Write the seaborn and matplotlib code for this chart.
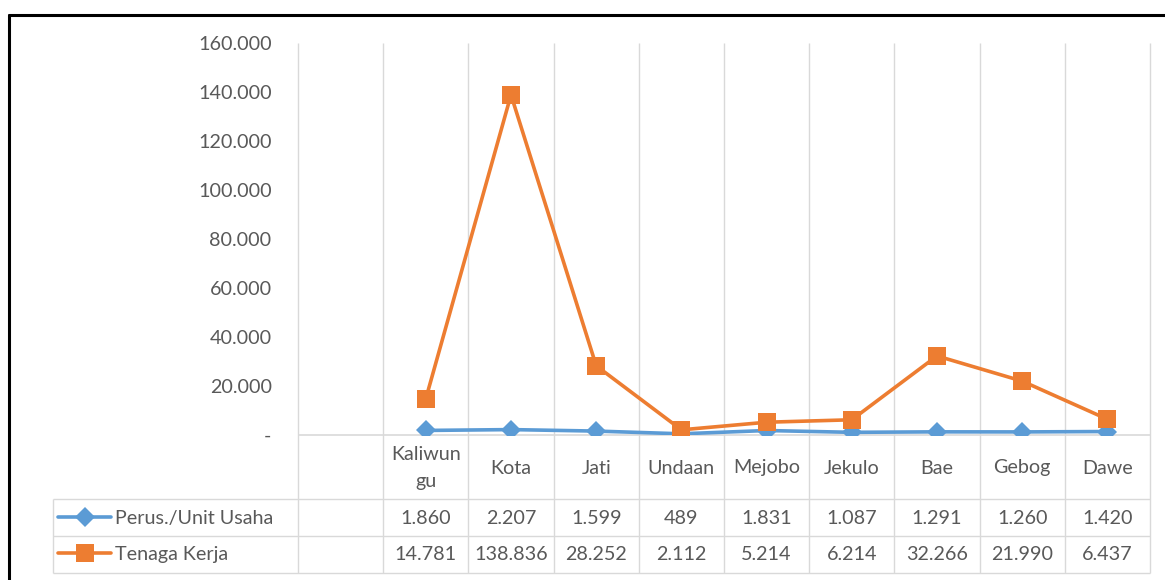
import numpy as np
import matplotlib
matplotlib.use("Agg")
import matplotlib.pyplot as plt
import seaborn as sns
from matplotlib.ticker import FuncFormatter
from matplotlib.lines import Line2D

# ---------------------------------------------
# DATA
# ---------------------------------------------
districts = ["Kaliwungu", "Kota", "Jati", "Undaan", "Mejobo", "Jekulo", "Bae", "Gebog", "Dawe"]
header_labels = ["Kaliwun\ngu", "Kota", "Jati", "Undaan", "Mejobo", "Jekulo", "Bae", "Gebog", "Dawe"]
perus = [1860, 2207, 1599, 489, 1831, 1087, 1291, 1260, 1420]
tenaga = [14781, 138836, 28252, 2112, 5214, 6214, 32266, 21990, 6437]
series_names = ["Perus./Unit Usaha", "Tenaga Kerja"]
y_ticks = [0, 20000, 40000, 60000, 80000, 100000, 120000, 140000, 160000]

# first category slot is left empty, like in the source chart
x_pos = np.arange(1, len(districts) + 1)
n_slots = len(districts) + 1

BLUE = "#5B9BD5"
ORANGE = "#ED7D31"
GRID = "#D9D9D9"
TEXT = "#595959"
FS = 14.2


def fmt_id(v):
    return f"{int(v):,}".replace(",", ".")


sns.set_theme(style="white")
plt.rcParams["font.family"] = ["Lato", "DejaVu Sans"]

W, H = 1165, 580
fig = plt.figure(figsize=(W / 100, H / 100), dpi=100)
ax = fig.add_axes([298 / W, 1 - 435 / H, 852 / W, 392 / H])

sns.lineplot(x=x_pos, y=perus, ax=ax, color=BLUE, linewidth=2.6, marker="D",
             markersize=10, markeredgewidth=0, label=series_names[0])
sns.lineplot(x=x_pos, y=tenaga, ax=ax, color=ORANGE, linewidth=2.6, marker="s",
             markersize=13, markeredgewidth=0, label=series_names[1])

ax.set_xlim(-0.5, n_slots - 0.5)
ax.set_ylim(0, 160000)
ax.set_xticks([])
ax.set_yticks(y_ticks)
ax.yaxis.set_major_formatter(FuncFormatter(lambda v, p: "-" if v == 0 else fmt_id(v)))
ax.tick_params(axis="y", length=0, pad=19, labelsize=FS, colors=TEXT)
for s in ax.spines.values():
    s.set_visible(False)
ax.grid(False)

# table geometry in axes coords (y) / data coords (x)
trans = ax.get_xaxis_transform()
px = 392.0
y_head_bot = -(499 - 435) / px
y_row1_bot = -(536 - 435) / px
y_row2_bot = -(573 - 435) / px
x_table_left = -0.5 + (53 - 298) / 85.2

# vertical gridlines that continue down into the data table
bounds = np.arange(n_slots + 1) - 0.5
ax.vlines(bounds, y_row2_bot, 1, transform=trans, color=GRID, linewidth=1, clip_on=False, zorder=0)
ax.vlines([x_table_left], y_row2_bot, y_head_bot, transform=trans, color=GRID, linewidth=1, clip_on=False)
# axis line at zero and table row lines
ax.hlines([0], -0.5, n_slots - 0.5, transform=trans, color=GRID, linewidth=1.2, clip_on=False, zorder=1)
ax.hlines([y_head_bot, y_row1_bot, y_row2_bot], x_table_left, n_slots - 0.5, transform=trans,
          color=GRID, linewidth=1, clip_on=False)

# header row (category labels) and values
y_head = -(468 - 435) / px
y_r1 = -(518 - 435) / px
y_r2 = -(555 - 435) / px
for x, lab, a, b in zip(x_pos, header_labels, perus, tenaga):
    ax.text(x, y_head, lab, transform=trans, ha="center", va="center", fontsize=FS,
            color=TEXT, linespacing=1.7)
    ax.text(x, y_r1, fmt_id(a), transform=trans, ha="center", va="center", fontsize=FS, color=TEXT)
    ax.text(x, y_r2, fmt_id(b), transform=trans, ha="center", va="center", fontsize=FS, color=TEXT)

# legend keys sit in the row label cells
ax.legend(loc="center left", bbox_to_anchor=((58 - 298) / 852, (y_r1 + y_r2) / 2),
          frameon=False, fontsize=FS, labelcolor=TEXT, handlelength=2.7, handletextpad=0.2,
          borderpad=0, borderaxespad=0, labelspacing=0.95)

# black frame edges of the original screenshot (top and left only)
fig.add_artist(Line2D([9 / W, 1.0], [1 - 15 / H, 1 - 15 / H], transform=fig.transFigure,
                      color="black", linewidth=2.2))
fig.add_artist(Line2D([9 / W, 9 / W], [0.0, 1 - 15 / H], transform=fig.transFigure,
                      color="black", linewidth=2.2))

fig.savefig("out.png", dpi=100)
